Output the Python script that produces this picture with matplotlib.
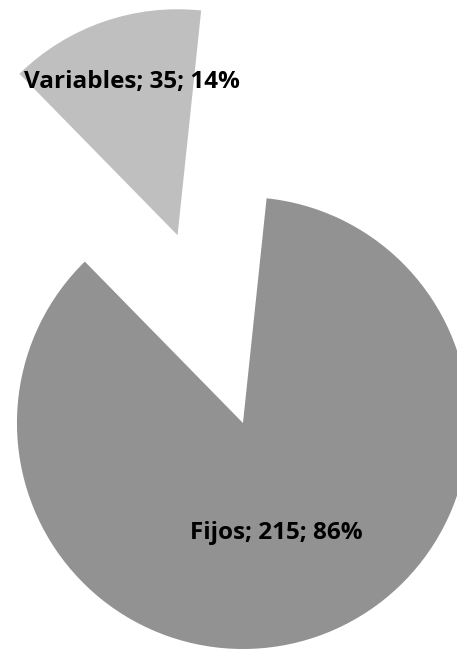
import matplotlib
matplotlib.use("Agg")
import matplotlib.pyplot as plt
import numpy as np

# Slice data (Fijos first, drawn clockwise from ~84 deg like the Excel original)
categories = ["Fijos", "Variables"]
values = [215, 35]
colors = ["#929292", "#bfbfbf"]
explode = [0.0, 0.88]
label_dist = [0.51, 0.71]
label_turn = [-2.5, -2.5]  # degrees, small nudge off the bisector

total = sum(values)
labels = [f"{name}; {val}; {round(100 * val / total)}%" for name, val in zip(categories, values)]

fig = plt.figure(figsize=(4.57, 6.49), dpi=100)
ax = fig.add_axes([0, 0, 1, 1])

wedges, texts = ax.pie(
    values,
    colors=colors,
    explode=explode,
    labels=labels,
    startangle=84,
    counterclock=False,
    wedgeprops={"linewidth": 0},
    textprops={"fontsize": 17.5, "fontweight": "bold", "family": "Open Sans", "color": "black"},
)

# Move each label inside its own slice
for wedge, text, ex, dist, turn in zip(wedges, texts, explode, label_dist, label_turn):
    mid = np.deg2rad((wedge.theta1 + wedge.theta2) / 2)
    cx, cy = ex * np.cos(mid), ex * np.sin(mid)
    ang = mid + np.deg2rad(turn)
    text.set_position((cx + dist * np.cos(ang), cy + dist * np.sin(ang)))
    text.set_ha("center")
    text.set_va("center")

ax.set_aspect("auto")
ax.set_xlim(-1.075, 0.947)
ax.set_ylim(-1.0, 1.872)
ax.axis("off")

fig.savefig("out.png", dpi=100)
